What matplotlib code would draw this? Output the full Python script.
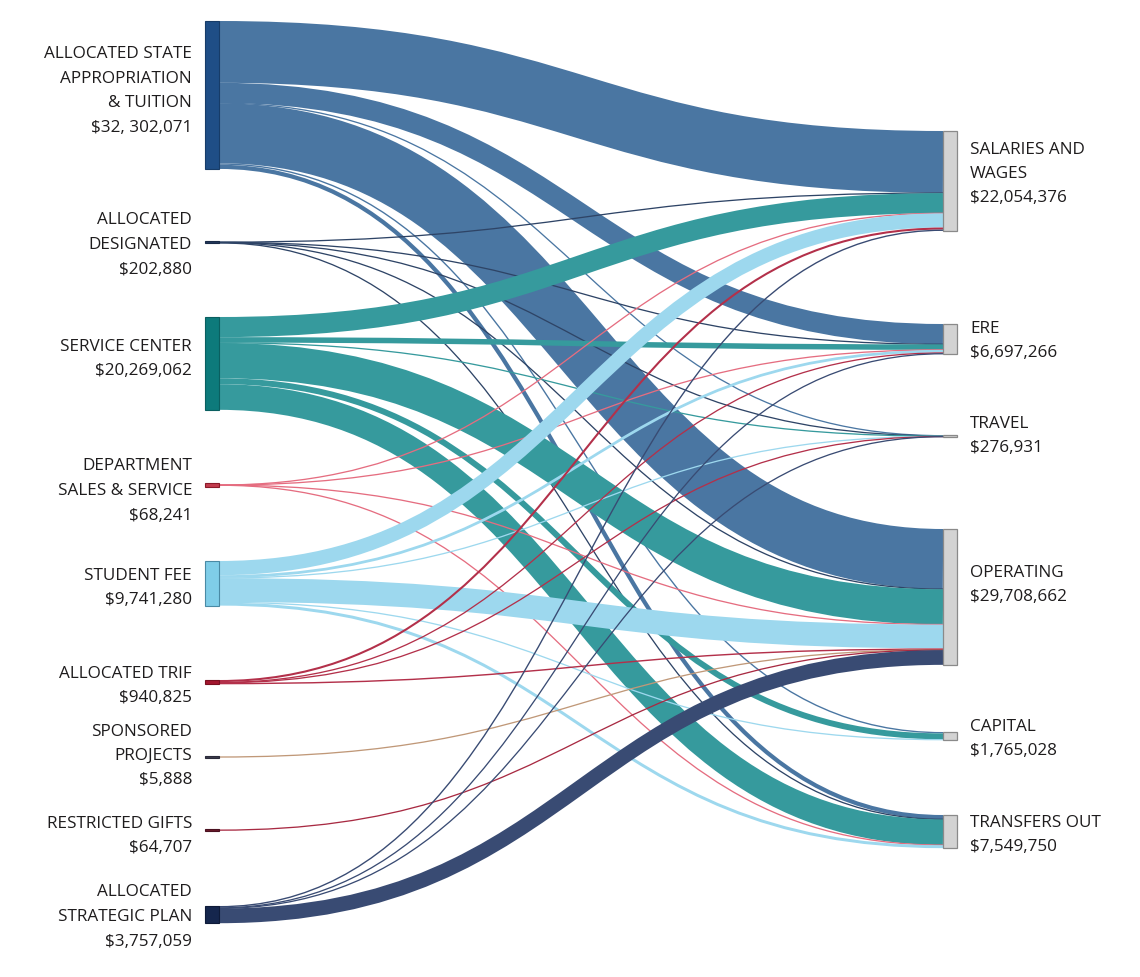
import matplotlib
matplotlib.use("Agg")
import matplotlib.pyplot as plt
from matplotlib.path import Path
from matplotlib.patches import PathPatch, Rectangle

# ---------------- data ($ millions) ----------------
source_labels = [
    "ALLOCATED STATE\nAPPROPRIATION\n& TUITION\n$32, 302,071",
    "ALLOCATED\nDESIGNATED\n$202,880",
    "SERVICE CENTER\n$20,269,062",
    "DEPARTMENT\nSALES & SERVICE\n$68,241",
    "STUDENT FEE\n$9,741,280",
    "ALLOCATED TRIF\n$940,825",
    "SPONSORED\nPROJECTS\n$5,888",
    "RESTRICTED GIFTS\n$64,707",
    "ALLOCATED\nSTRATEGIC PLAN\n$3,757,059",
]
target_labels = [
    "SALARIES AND\nWAGES\n$22,054,376",
    "ERE\n$6,697,266",
    "TRAVEL\n$276,931",
    "OPERATING\n$29,708,662",
    "CAPITAL\n$1,765,028",
    "TRANSFERS OUT\n$7,549,750",
]
# flows from each source to [Salaries, ERE, Travel, Operating, Capital, Transfers]
flow_state = [13.5, 4.4, 0.08, 13.1, 0.3, 0.922]
flow_designated = [0.06, 0.04, 0.02, 0.05, 0.0, 0.033]
flow_service = [4.4, 1.2, 0.07, 7.7, 1.3, 5.599]
flow_dept = [0.01, 0.01, 0.0, 0.012, 0.0, 0.036]
flow_student = [3.1, 0.6, 0.04, 5.2, 0.15, 0.651]
flow_trif = [0.45, 0.15, 0.03, 0.311, 0.0, 0.0]
flow_sponsored = [0.0, 0.0, 0.0, 0.006, 0.0, 0.0]
flow_gifts = [0.0, 0.0, 0.0, 0.065, 0.0, 0.0]
flow_strategic = [0.3, 0.2, 0.04, 3.217, 0.0, 0.0]

flows = [flow_state, flow_designated, flow_service, flow_dept, flow_student,
         flow_trif, flow_sponsored, flow_gifts, flow_strategic]

# ---------------- styles / layout ----------------
link_colors = ["#4a76a2", "#2e4466", "#369a9d", "#e56d80", "#9dd8ee",
               "#b3304a", "#c09878", "#a82a42", "#394b73"]
node_colors = ["#1f4e86", "#22375a", "#0d7a7b", "#c23b4d", "#7fcde8",
               "#a3162e", "#3a3a4a", "#6a1a2a", "#15264d"]
node_edges = ["#173c68", "#1a2b48", "#0a5f60", "#8b1a2a", "#4a8aa5",
              "#7a1020", "#2a2a3a", "#4a1020", "#0e1a38"]

W, H = 1140, 978
DPI = 100
SCALE = 4.58          # px per $ million
LX, RX, NW = 205, 943, 14
left_tops = [22, 243, 318, 486, 562, 681, 758, 831, 907]
right_tops = [132, 325, 436.5, 530, 733, 816]
left_label_c = [89, 243, 357, 489, 586, 684, 754, 834, 915]
right_label_c = [172, 339, 434, 583, 737, 833]
left_min_node = [2.0, 2.0, 2.0, 3.5, 2.0, 2.0, 2.0, 2.0, 2.0]
LINE_GAP = 24.5
MIN_LINK = 1.3
MIN_NODE = 2.0
FONT = "Open Sans"
FS = 12.3
TXT = "#1e1c1d"

fig = plt.figure(figsize=(W / DPI, H / DPI), dpi=DPI)
ax = fig.add_axes([0, 0, 1, 1])
ax.set_xlim(0, W)
ax.set_ylim(H, 0)
ax.axis("off")

ns, nt = len(flows), len(target_labels)
# source side positions
src_y = {}
left_h = []
for i in range(ns):
    y = left_tops[i]
    for j in range(nt):
        v = flows[i][j]
        if v > 0:
            w = v * SCALE
            src_y[(i, j)] = y + w / 2
            y += w
    left_h.append(y - left_tops[i])
# target side positions
tgt_y = {}
right_h = []
for j in range(nt):
    y = right_tops[j]
    for i in range(ns):
        v = flows[i][j]
        if v > 0:
            w = v * SCALE
            tgt_y[(i, j)] = y + w / 2
            y += w
    right_h.append(y - right_tops[j])

# links
x0, x1 = LX + NW, RX
xm = (x0 + x1) / 2
for i in range(ns):
    for j in range(nt):
        v = flows[i][j]
        if v <= 0:
            continue
        w = max(v * SCALE, MIN_LINK)
        ya, yb = src_y[(i, j)], tgt_y[(i, j)]
        path = Path([(x0, ya), (xm, ya), (xm, yb), (x1, yb)],
                    [Path.MOVETO, Path.CURVE4, Path.CURVE4, Path.CURVE4])
        patch = PathPatch(path, facecolor="none", edgecolor=link_colors[i],
                          linewidth=w * 72 / DPI, capstyle="butt", zorder=2)
        ax.add_patch(patch)

# nodes
for i in range(ns):
    h = left_h[i]
    top = left_tops[i]
    mn = left_min_node[i]
    if h < mn:
        top = top + h / 2 - mn / 2
        h = mn
    ax.add_patch(Rectangle((LX, top), NW, h, facecolor=node_colors[i],
                           edgecolor=node_edges[i], linewidth=0.8, zorder=3))
for j in range(nt):
    h = right_h[j]
    top = right_tops[j]
    if h < MIN_NODE:
        top = top + h / 2 - MIN_NODE / 2
        h = MIN_NODE
    ax.add_patch(Rectangle((RX, top), NW, h, facecolor="#d3d3d3",
                           edgecolor="#8a8a8a", linewidth=0.9, zorder=3))

# labels
CAP = 6.0
def draw_label(text, x, yc, ha):
    lines = text.split("\n")
    n = len(lines)
    for k, line in enumerate(lines):
        yl = yc + (k - (n - 1) / 2) * LINE_GAP
        ax.text(x, yl + CAP, line, ha=ha, va="baseline", fontsize=FS,
                family=FONT, color=TXT, zorder=4)

for i in range(ns):
    draw_label(source_labels[i], 192, left_label_c[i], "right")
for j in range(nt):
    draw_label(target_labels[j], 970, right_label_c[j], "left")

fig.savefig("out.png", dpi=DPI, facecolor="white")
